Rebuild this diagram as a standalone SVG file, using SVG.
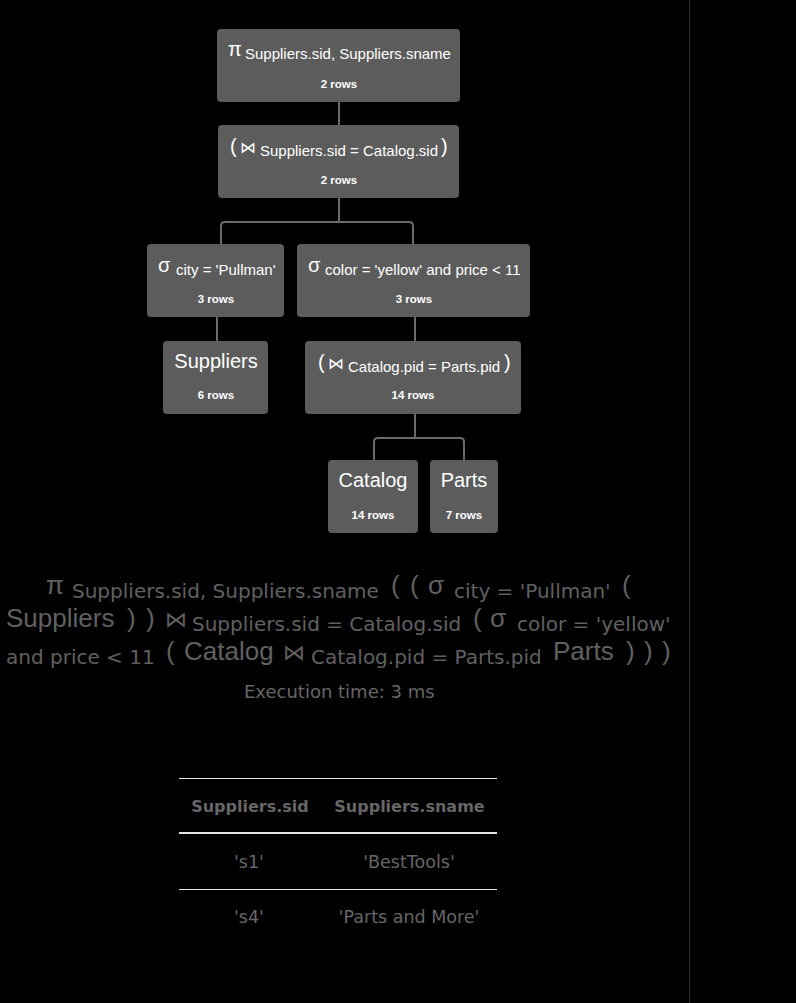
<svg xmlns="http://www.w3.org/2000/svg" width="796" height="1003" viewBox="0 0 796 1003">
<style>
.bg{fill:#000}
.node rect{fill:#5c5c5c}
.g{font-family:"Liberation Sans",Arial,sans-serif;font-size:20px;fill:#fff}
.s{font-family:"Liberation Sans",Arial,sans-serif;font-size:15px;fill:#fff}
.t{font-family:"Liberation Sans",Arial,sans-serif;font-size:20px;fill:#fff;text-anchor:middle}
.r{font-family:"Liberation Sans",Arial,sans-serif;font-size:11.5px;font-weight:bold;fill:#fff;text-anchor:middle}
.conn path{fill:none;stroke:#6a6a6a;stroke-width:2}
.L{font-family:"Liberation Sans",Arial,sans-serif;font-size:26px;fill:#606060}
.S{font-family:"DejaVu Sans",Verdana,sans-serif;font-size:20px;fill:#606060}
.E{font-family:"DejaVu Sans",Verdana,sans-serif;font-size:18px;fill:#666}
.th{font-family:"DejaVu Sans",Verdana,sans-serif;font-size:16px;font-weight:bold;fill:#666;text-anchor:middle}
.td{font-family:"DejaVu Sans",Verdana,sans-serif;font-size:17.5px;fill:#666;text-anchor:middle}
.rule{stroke:#e6e6e6}
</style>
<rect class="bg" x="0" y="0" width="796" height="1003"/>
<line x1="689.5" y1="0" x2="689.5" y2="1003" stroke="#333" stroke-width="1"/>

<g id="connectors" class="conn">
<path d="M339,102 V125"/>
<path d="M339,198 V222 M221,244 V226 Q221,222 225,222 H409 Q413,222 413,226 V244"/>
<path d="M217,317 V341"/>
<path d="M415,317 V341"/>
<path d="M415,414 V438 M374,460 V442 Q374,438 378,438 H460 Q464,438 464,442 V460"/>
</g>

<g id="node-project" class="node">
<rect x="217" y="29" width="243" height="73" rx="4"/>
<text class="g" x="228" y="56">π</text>
<text class="s" x="245" y="59">Suppliers.sid, Suppliers.sname</text>
<text class="r" x="339" y="88">2 rows</text>
</g>

<g id="node-join1" class="node">
<rect x="218" y="125" width="241" height="73" rx="4"/>
<text class="g" x="230" y="153">(</text>
<text class="g" x="240" y="153" style="font-family:'DejaVu Sans',sans-serif;font-size:16px">⋈</text>
<text class="s" x="260" y="156">Suppliers.sid = Catalog.sid</text>
<text class="g" x="441" y="153">)</text>
<text class="r" x="339" y="184">2 rows</text>
</g>

<g id="node-select-city" class="node">
<rect x="147" y="244" width="137" height="73" rx="4"/>
<text class="g" x="158" y="272">σ</text>
<text class="s" x="176" y="275">city = 'Pullman'</text>
<text class="r" x="216" y="303">3 rows</text>
</g>

<g id="node-select-color" class="node">
<rect x="297" y="244" width="233" height="73" rx="4"/>
<text class="g" x="308" y="272">σ</text>
<text class="s" x="325" y="275">color = 'yellow' and price &lt; 11</text>
<text class="r" x="414" y="303">3 rows</text>
</g>

<g id="node-suppliers" class="node">
<rect x="163" y="341" width="105" height="73" rx="4"/>
<text class="t" x="216" y="368">Suppliers</text>
<text class="r" x="216" y="399">6 rows</text>
</g>

<g id="node-join2" class="node">
<rect x="305" y="341" width="216" height="73" rx="4"/>
<text class="g" x="318" y="369">(</text>
<text class="g" x="328" y="369" style="font-family:'DejaVu Sans',sans-serif;font-size:16px">⋈</text>
<text class="s" x="348" y="372">Catalog.pid = Parts.pid</text>
<text class="g" x="504" y="369">)</text>
<text class="r" x="413" y="399">14 rows</text>
</g>

<g id="node-catalog" class="node">
<rect x="328" y="460" width="90" height="73" rx="4"/>
<text class="t" x="373" y="487">Catalog</text>
<text class="r" x="373" y="519">14 rows</text>
</g>

<g id="node-parts" class="node">
<rect x="430" y="460" width="68" height="73" rx="4"/>
<text class="t" x="464" y="487">Parts</text>
<text class="r" x="464" y="519">7 rows</text>
</g>

<g id="expression">
<text class="L" x="46" y="594">π</text>
<text class="S" x="72" y="598">Suppliers.sid, Suppliers.sname</text>
<text class="L" x="391" y="594">(</text>
<text class="L" x="410" y="594">(</text>
<text class="L" x="428" y="594">σ</text>
<text class="S" x="454" y="598">city = 'Pullman'</text>
<text class="L" x="622" y="594">(</text>

<text class="L" x="6" y="627">Suppliers</text>
<text class="L" x="127" y="627">)</text>
<text class="L" x="146" y="627">)</text>
<text class="L" x="165" y="627" style="font-family:'DejaVu Sans',sans-serif;font-size:22px">⋈</text>
<text class="S" x="192" y="631">Suppliers.sid = Catalog.sid</text>
<text class="L" x="473" y="627">(</text>
<text class="L" x="490" y="627">σ</text>
<text class="S" x="517" y="631">color = 'yellow'</text>

<text class="S" x="6" y="664">and price &lt; 11</text>
<text class="L" x="166" y="660">(</text>
<text class="L" x="184" y="660">Catalog</text>
<text class="L" x="283" y="660" style="font-family:'DejaVu Sans',sans-serif;font-size:22px">⋈</text>
<text class="S" x="311" y="664">Catalog.pid = Parts.pid</text>
<text class="L" x="553" y="660">Parts</text>
<text class="L" x="626" y="660">)</text>
<text class="L" x="644" y="660">)</text>
<text class="L" x="662" y="660">)</text>

<text class="E" x="244" y="698">Execution time: 3 ms</text>
</g>

<g id="result-table">
<line class="rule" x1="179" y1="778.5" x2="497" y2="778.5" stroke-width="1"/>
<text class="th" x="250" y="812">Suppliers.sid</text>
<text class="th" x="409.5" y="812">Suppliers.sname</text>
<line class="rule" x1="179" y1="833" x2="497" y2="833" stroke-width="2"/>
<text class="td" x="249" y="868">'s1'</text>
<text class="td" x="409" y="868">'BestTools'</text>
<line class="rule" x1="179" y1="889.5" x2="497" y2="889.5" stroke-width="1"/>
<text class="td" x="249" y="923">'s4'</text>
<text class="td" x="409" y="923">'Parts and More'</text>
</g>
</svg>
